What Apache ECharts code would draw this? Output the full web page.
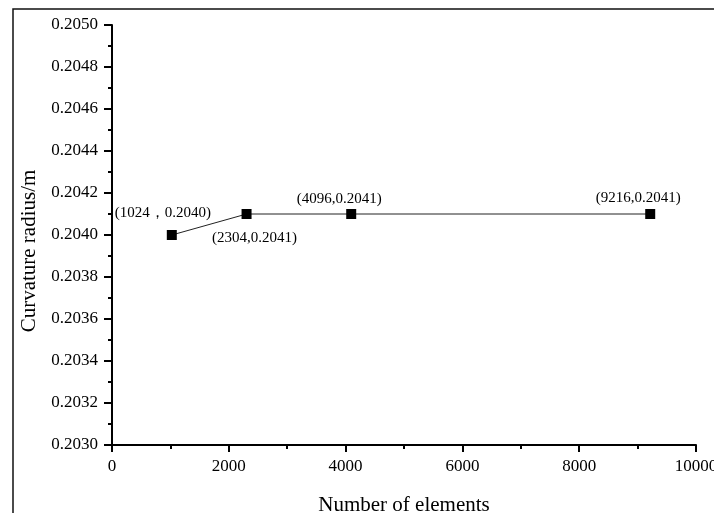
<!DOCTYPE html>
<html>
<head>
<meta charset="utf-8">
<script src="https://cdn.jsdelivr.net/npm/echarts@6/dist/echarts.min.js"></script>
<style>
html,body{margin:0;padding:0;background:#fff;overflow:hidden;}
#chart{width:714px;height:513px;}
</style>
</head>
<body>
<div id="chart"></div>
<script>
// Data
const elements = [1024, 2304, 4096, 9216];
const radius = [0.2040, 0.2041, 0.2041, 0.2041];
const pointLabels = ['(1024，0.2040)', '(2304,0.2041)', '(4096,0.2041)', '(9216,0.2041)'];
const xName = 'Number of elements';
const yName = 'Curvature radius/m';

// Label placement (style only)
const labelPlacement = [
  {position: 'top', offset: [-9, -4]},
  {position: 'bottom', offset: [8, 7]},
  {position: 'top', offset: [-12, 3]},
  {position: 'top', offset: [-12, 2]}
];

const FONT = '"Liberation Serif", "Times New Roman", serif';
const chart = echarts.init(document.getElementById('chart'), null, {renderer: 'canvas', width: 714, height: 513});

const seriesData = elements.map((x, i) => ({
  value: [x, radius[i]],
  label: {
    show: true,
    formatter: pointLabels[i],
    position: labelPlacement[i].position,
    offset: labelPlacement[i].offset,
    distance: 5,
    color: '#000',
    fontFamily: FONT,
    fontSize: 15
  }
}));

chart.setOption({
  backgroundColor: '#fff',
  animation: false,
  graphic: [{
    type: 'rect',
    shape: {x: 13, y: 9, width: 900, height: 700},
    style: {fill: null, stroke: '#111', lineWidth: 1.5},
    silent: true,
    z: -1
  }],
  grid: {left: 112, top: 25, width: 584, height: 420, containLabel: false, outerBoundsMode: 'none'},
  xAxis: {
    type: 'value',
    min: 0, max: 10000, interval: 2000,
    name: xName,
    nameLocation: 'middle',
    nameGap: 50,
    nameTextStyle: {fontFamily: FONT, fontSize: 21, color: '#000'},
    axisLine: {show: true, onZero: false, lineStyle: {color: '#000', width: 2}},
    axisTick: {show: true, inside: false, length: 7, lineStyle: {color: '#000', width: 2}},
    minorTick: {show: true, splitNumber: 2, length: 4, lineStyle: {color: '#000', width: 2}},
    splitLine: {show: false},
    axisLabel: {fontFamily: FONT, fontSize: 17, color: '#000', margin: 13,
      formatter: v => String(Math.round(v))}
  },
  yAxis: {
    type: 'value',
    min: 0.2030, max: 0.2050, interval: 0.0002,
    name: yName,
    nameLocation: 'middle',
    nameGap: 72,
    nameRotate: 90,
    nameTextStyle: {fontFamily: FONT, fontSize: 21, color: '#000', padding: [0, 32, 0, 0]},
    axisLine: {show: true, onZero: false, lineStyle: {color: '#000', width: 2}},
    axisTick: {show: true, inside: false, length: 8, lineStyle: {color: '#000', width: 2}},
    minorTick: {show: true, splitNumber: 2, length: 4, lineStyle: {color: '#000', width: 2}},
    splitLine: {show: false},
    axisLabel: {fontFamily: FONT, fontSize: 17, color: '#000', margin: 14,
      formatter: v => v.toFixed(4)}
  },
  series: [{
    type: 'line',
    data: seriesData,
    symbol: 'rect',
    symbolSize: 10,
    itemStyle: {color: '#000'},
    lineStyle: {color: '#222', width: 1}
  }]
});
</script>
</body>
</html>
